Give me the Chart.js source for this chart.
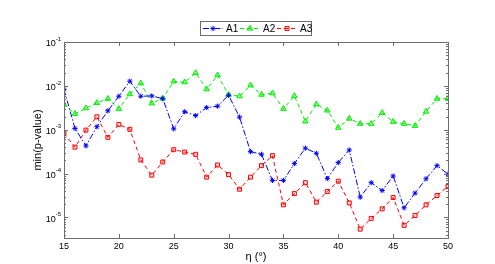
<!DOCTYPE html>
<html><head><meta charset="utf-8">
<script src="https://cdn.jsdelivr.net/npm/chart.js@4/dist/chart.umd.min.js"></script>
<style>html,body{margin:0;padding:0;background:#fff}</style>
</head><body>
<canvas id="c" width="495" height="264"></canvas>
<script>
const eta = [15,16,17,18,19,20,21,22,23,24,25,26,27,28,29,30,31,32,33,34,35,36,37,38,39,40,41,42,43,44,45,46,47,48,49,50];
const A1 = [8.3e-3,1.07e-3,4.3e-4,1.17e-3,2.7e-3,5.8e-3,1.28e-2,5.8e-3,5.9e-3,5.1e-3,1.05e-3,2.57e-3,2.1e-3,3.2e-3,3.45e-3,6.1e-3,1.94e-3,3.16e-4,2.75e-4,7.0e-5,7.0e-5,1.69e-4,3.8e-4,2.9e-4,7.7e-5,1.78e-4,3.45e-4,2.9e-5,6.2e-5,4.1e-5,8.8e-5,1.66e-5,3.6e-5,7.6e-5,1.52e-4,9.7e-5];
const A2 = [3.77e-3,2.3e-3,3.1e-3,4.1e-3,5.1e-3,3.0e-3,6.5e-3,1.15e-2,4.0e-3,5.2e-3,1.26e-2,1.21e-2,1.97e-2,8.4e-3,1.75e-2,6.3e-3,5.8e-3,1.03e-2,6.3e-3,6.8e-3,3.0e-3,5.9e-3,1.55e-3,3.8e-3,2.75e-3,1.11e-3,1.8e-3,1.37e-3,1.37e-3,2.43e-3,1.52e-3,1.37e-3,1.23e-3,2.6e-3,5.1e-3,5.1e-3];
const A3 = [8.3e-4,4.0e-4,9.8e-4,1.97e-3,6.7e-4,1.32e-3,1.02e-3,2.05e-4,9.2e-5,1.84e-4,3.5e-4,3.1e-4,2.75e-4,8.3e-5,1.57e-4,9.5e-5,4.4e-5,8.3e-5,1.52e-4,2.57e-4,1.94e-5,3.5e-5,6.2e-5,2.23e-5,3.9e-5,6.7e-5,2.15e-5,5.4e-6,9.5e-6,1.57e-5,2.85e-5,6.6e-6,1.11e-5,1.94e-5,3.16e-5,5.1e-5];
const seriesNames = ['A1','A2','A3'];
const xTicks = [15,20,25,30,35,40,45,50];
const yTickExps = [-5,-4,-3,-2,-1];

const FONT = '"Liberation Sans", Arial, sans-serif';
const AXC = '#6e6e6e';

const styles = [
  {color:'#0000ff', dash:[6,2,1.5,2], point:'star', radius:2.6, bg:'#0000ff'},
  {color:'#00ee00', dash:[4,3], point:'triangle', radius:3.2, bg:'rgba(0,238,0,0.45)'},
  {color:'#ff0000', dash:[4,3], point:'rect', radius:2.8, bg:'rgba(255,0,0,0.15)'}
];
const vals = [A1,A2,A3];

const decor = {
  id:'decor',
  afterDraw(chart){
    const ctx = chart.ctx, ca = chart.chartArea;
    const xs = chart.scales.x, ys = chart.scales.y;
    ctx.save();
    ctx.strokeStyle = AXC; ctx.lineWidth = 1;
    ctx.strokeRect(Math.round(ca.left)+0.5, Math.round(ca.top)+0.5, Math.round(ca.right-ca.left), Math.round(ca.bottom-ca.top));
    ctx.beginPath();
    xTicks.forEach(v=>{
      const px = Math.round(xs.getPixelForValue(v))+0.5;
      ctx.moveTo(px, ca.bottom); ctx.lineTo(px, ca.bottom-4);
      ctx.moveTo(px, ca.top); ctx.lineTo(px, ca.top+4);
    });
    for (let e=-6;e<=-1;e++){
      for (let k=1;k<=9;k++){
        const v = k*Math.pow(10,e);
        if (v < ys.min*0.999 || v > ys.max*1.001) continue;
        const py = Math.round(ys.getPixelForValue(v))+0.5;
        const L = k===1?4:2;
        ctx.moveTo(ca.left, py); ctx.lineTo(ca.left+L, py);
        ctx.moveTo(ca.right, py); ctx.lineTo(ca.right-L, py);
      }
    }
    ctx.stroke();
    ctx.fillStyle = '#000';
    yTickExps.forEach(e=>{
      const py = ys.getPixelForValue(Math.pow(10,e));
      ctx.textBaseline = 'middle'; ctx.textAlign = 'left';
      const sup = String(e);
      ctx.font = '6px '+FONT;
      const ws = ctx.measureText(sup).width;
      ctx.font = '9px '+FONT;
      const wb = ctx.measureText('10').width;
      const right = ca.left - 3;
      ctx.fillText('10', right - ws - wb, py+2);
      ctx.font = '6px '+FONT;
      ctx.fillText(sup, right - ws, py-3);
    });
    const lx = 200, ly = 21, lw = 111, lh = 14;
    ctx.fillStyle = '#fff';
    ctx.fillRect(lx, ly, lw, lh);
    ctx.strokeStyle = AXC;
    ctx.strokeRect(lx+0.5, ly+0.5, lw, lh);
    const offs = [203, 240, 277];
    chart.data.datasets.forEach((ds,i)=>{
      const s = styles[i];
      const x0 = offs[i], cy = ly + lh/2 + 0.5;
      ctx.save();
      ctx.strokeStyle = s.color; ctx.lineWidth = 1; ctx.setLineDash(s.dash);
      ctx.beginPath(); ctx.moveTo(x0, cy); ctx.lineTo(x0+20, cy); ctx.stroke();
      ctx.setLineDash([]);
      ctx.fillStyle = s.bg; ctx.strokeStyle = s.color; ctx.lineWidth = 1;
      Chart.helpers.drawPoint(ctx, {pointStyle:s.point, radius:s.radius, borderWidth:1, rotation:0}, x0+10, cy);
      ctx.restore();
      ctx.fillStyle = '#000'; ctx.font = '10px '+FONT; ctx.textBaseline='middle'; ctx.textAlign='left';
      ctx.fillText(ds.label, x0+23, cy+0.5);
    });
    ctx.restore();
  }
};

new Chart(document.getElementById('c'), {
  type:'line',
  data:{
    datasets: vals.map((arr,i)=>({
      label: seriesNames[i],
      data: arr.map((v,j)=>({x:eta[j], y:v})),
      borderColor: styles[i].color,
      backgroundColor: styles[i].bg,
      borderWidth: 1,
      borderDash: styles[i].dash,
      pointStyle: styles[i].point,
      pointRadius: styles[i].radius,
      pointBorderWidth: 1,
      pointBorderColor: styles[i].color,
      pointBackgroundColor: styles[i].bg,
      tension: 0,
      fill:false
    }))
  },
  options:{
    responsive:false,
    animation:false,
    devicePixelRatio:1,
    layout:{padding:{top:42,right:47,bottom:0,left:31}},
    plugins:{legend:{display:false}, tooltip:{enabled:false}},
    scales:{
      x:{
        type:'linear', min:15, max:50,
        afterBuildTicks(s){ s.ticks = xTicks.map(v=>({value:v})); },
        afterFit(s){ s.height = 26; },
        grid:{display:false, drawTicks:false},
        border:{display:false},
        ticks:{color:'#000', font:{family:FONT, size:9}, padding:3, maxRotation:0},
        title:{display:true, text:'η (°)', color:'#000', font:{family:FONT, size:11}, padding:{top:0,bottom:0}}
      },
      y:{
        type:'logarithmic', min:3.4e-6, max:0.1,
        afterBuildTicks(s){ s.ticks = yTickExps.map(e=>({value:Math.pow(10,e)})); },
        afterFit(s){ s.width = 33; },
        grid:{display:false, drawTicks:false},
        border:{display:false},
        ticks:{display:false},
        title:{display:true, text:'min(p-value)', color:'#000', font:{family:FONT, size:11}, padding:{top:0,bottom:0}}
      }
    }
  },
  plugins:[decor]
});
</script>
</body></html>
